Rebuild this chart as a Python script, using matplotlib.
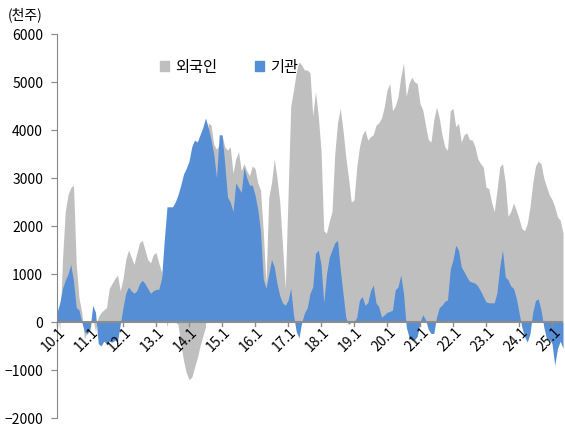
import matplotlib.pyplot as plt
from matplotlib.patches import Patch
import numpy as np

plt.rcParams['font.family'] = ['Noto Sans CJK KR', 'DejaVu Sans']

# monthly values, 2010.01 ~ 2025.05 (thousand shares)
foreign = [
    400, -200, 1300, 2300, 2650, 2800, 2850, 1200, 500, 200, -350, -200,      # 2010
    -100, 100, -200, 100, 200, 250, 300, 700, 800, 900, 980, 650,             # 2011
    900, 1300, 1500, 1350, 1200, 1430, 1650, 1700, 1500, 1300, 1230, 1400,    # 2012
    1450, 1230, 1050, 300, -100, 200, 100, 0, -50, -450, -800, -1050,         # 2013
    -1200, -1150, -950, -750, -500, -300, -100, 4150, 4100, 3700, 3600, 3700, # 2014
    3900, 3650, 3580, 3650, 3100, 3400, 3550, 3150, 3300, 3150, 3050, 3250,   # 2015
    3200, 2900, 2750, 1900, 800, 2600, 2900, 3400, 3000, 2500, 1600, 700,     # 2016
    2600, 4500, 4830, 5200, 5420, 5350, 5250, 5250, 5190, 4300, 4800, 4300,   # 2017
    3580, 1900, 1850, 2100, 2300, 3500, 4150, 4450, 4000, 3440, 3000, 2500,   # 2018
    2540, 3230, 3650, 3900, 4000, 3790, 3860, 3900, 4100, 4150, 4250, 4480,   # 2019
    4830, 4970, 4400, 4500, 4690, 5100, 5400, 4700, 4970, 5100, 5000, 4970,   # 2020
    4550, 4420, 4100, 3800, 3750, 4210, 4480, 4250, 3900, 3650, 3580, 4400,   # 2021
    4450, 4070, 4140, 3750, 3900, 3940, 3800, 3790, 3650, 3400, 3300, 3230,   # 2022
    2810, 2780, 2500, 2300, 2750, 3230, 3300, 2900, 2200, 2300, 2480, 2330,   # 2023
    2150, 1950, 1900, 2050, 2400, 2900, 3250, 3350, 3300, 3000, 2820, 2650,   # 2024
    2550, 2400, 2190, 2120, 1850,                                             # 2025
]
institution = [
    200, 400, 700, 870, 1000, 1200, 850, 300, 250, 0, -200, -250,             # 2010
    -150, 350, 200, -450, -500, -400, -450, -400, -420, -380, -400, -50,      # 2011
    300, 600, 730, 650, 600, 650, 800, 870, 800, 700, 600, 650,               # 2012
    680, 680, 900, 1700, 2400, 2400, 2400, 2500, 2650, 2850, 3080, 3200,      # 2013
    3350, 3650, 3790, 3750, 3900, 4050, 4250, 4050, 3800, 3500, 3000, 3900,   # 2014
    3900, 3300, 2600, 2500, 2300, 2900, 2800, 2700, 3230, 3000, 2850, 2850,   # 2015
    2650, 2350, 1900, 900, 700, 1000, 1300, 1150, 800, 550, 400, 350,         # 2016
    450, 700, 150, -200, -330, 0, 190, 300, 600, 730, 1430, 1500,             # 2017
    1200, 400, 1000, 1350, 1500, 1650, 1700, 1100, 600, 100, -50, 0,          # 2018
    0, 100, 460, 530, 350, 400, 650, 770, 400, 320, 100, 150,                 # 2019
    200, 220, 250, 670, 730, 980, 600, -100, -320, -380, -370, -300,          # 2020
    0, 150, 50, -150, -240, -240, 100, 300, 350, 430, 460, 1100,              # 2021
    1300, 1600, 1500, 1150, 1050, 940, 850, 830, 810, 750, 650, 530,          # 2022
    420, 400, 400, 400, 620, 1150, 1500, 940, 880, 750, 700, 500,             # 2023
    200, -100, -300, -420, -240, 200, 450, 480, 250, -100, -350, -350,        # 2024
    -450, -900, -550, -400, -550,                                             # 2025
]
years = list(range(10, 26))
tick_labels = [f'{y}.1' for y in years]

gray = '#BFBFBF'
blue = '#558ED5'

fig = plt.figure(figsize=(5.65, 4.29), dpi=100)
ax = fig.add_axes([57 / 565, 1 - 418 / 429, 506 / 565, 384 / 429])

x = np.arange(len(foreign))
ax.fill_between(x, 0, foreign, color=gray, lw=0)
ax.fill_between(x, 0, institution, color=blue, lw=0)
ax.axhline(0, color='#8C8C8C', lw=1.5)

ax.set_xlim(0, len(foreign) - 1)
ax.set_ylim(-2000, 6000)
ax.set_yticks(range(-2000, 6001, 1000))
ax.tick_params(axis='y', labelsize=10, length=4, color='#868686', pad=6)

for s in ['top', 'right', 'bottom']:
    ax.spines[s].set_visible(False)
ax.spines['left'].set_color('#868686')

# year ticks on the zero line
ax.set_xticks([])
for i, lab in enumerate(tick_labels):
    xm = i * 12
    ax.plot([xm, xm], [0, -80], color='#8C8C8C', lw=1, clip_on=False)
    ax.text(xm + 0.5, -70, lab, rotation=45, ha='right', va='top',
            fontsize=10, rotation_mode='anchor')

fig.text(8 / 565, 1 - 15 / 429, '(천주)', fontsize=10, va='center')

handles = [Patch(color=gray, label='외국인'), Patch(color=blue, label='기관')]
ax.legend(handles=handles, loc='center', bbox_to_anchor=(0.34, 0.914), ncol=2,
          frameon=False, fontsize=11, handlelength=0.6, handleheight=0.6,
          columnspacing=2.5, handletextpad=0.4)

fig.savefig('out.png', dpi=100)
